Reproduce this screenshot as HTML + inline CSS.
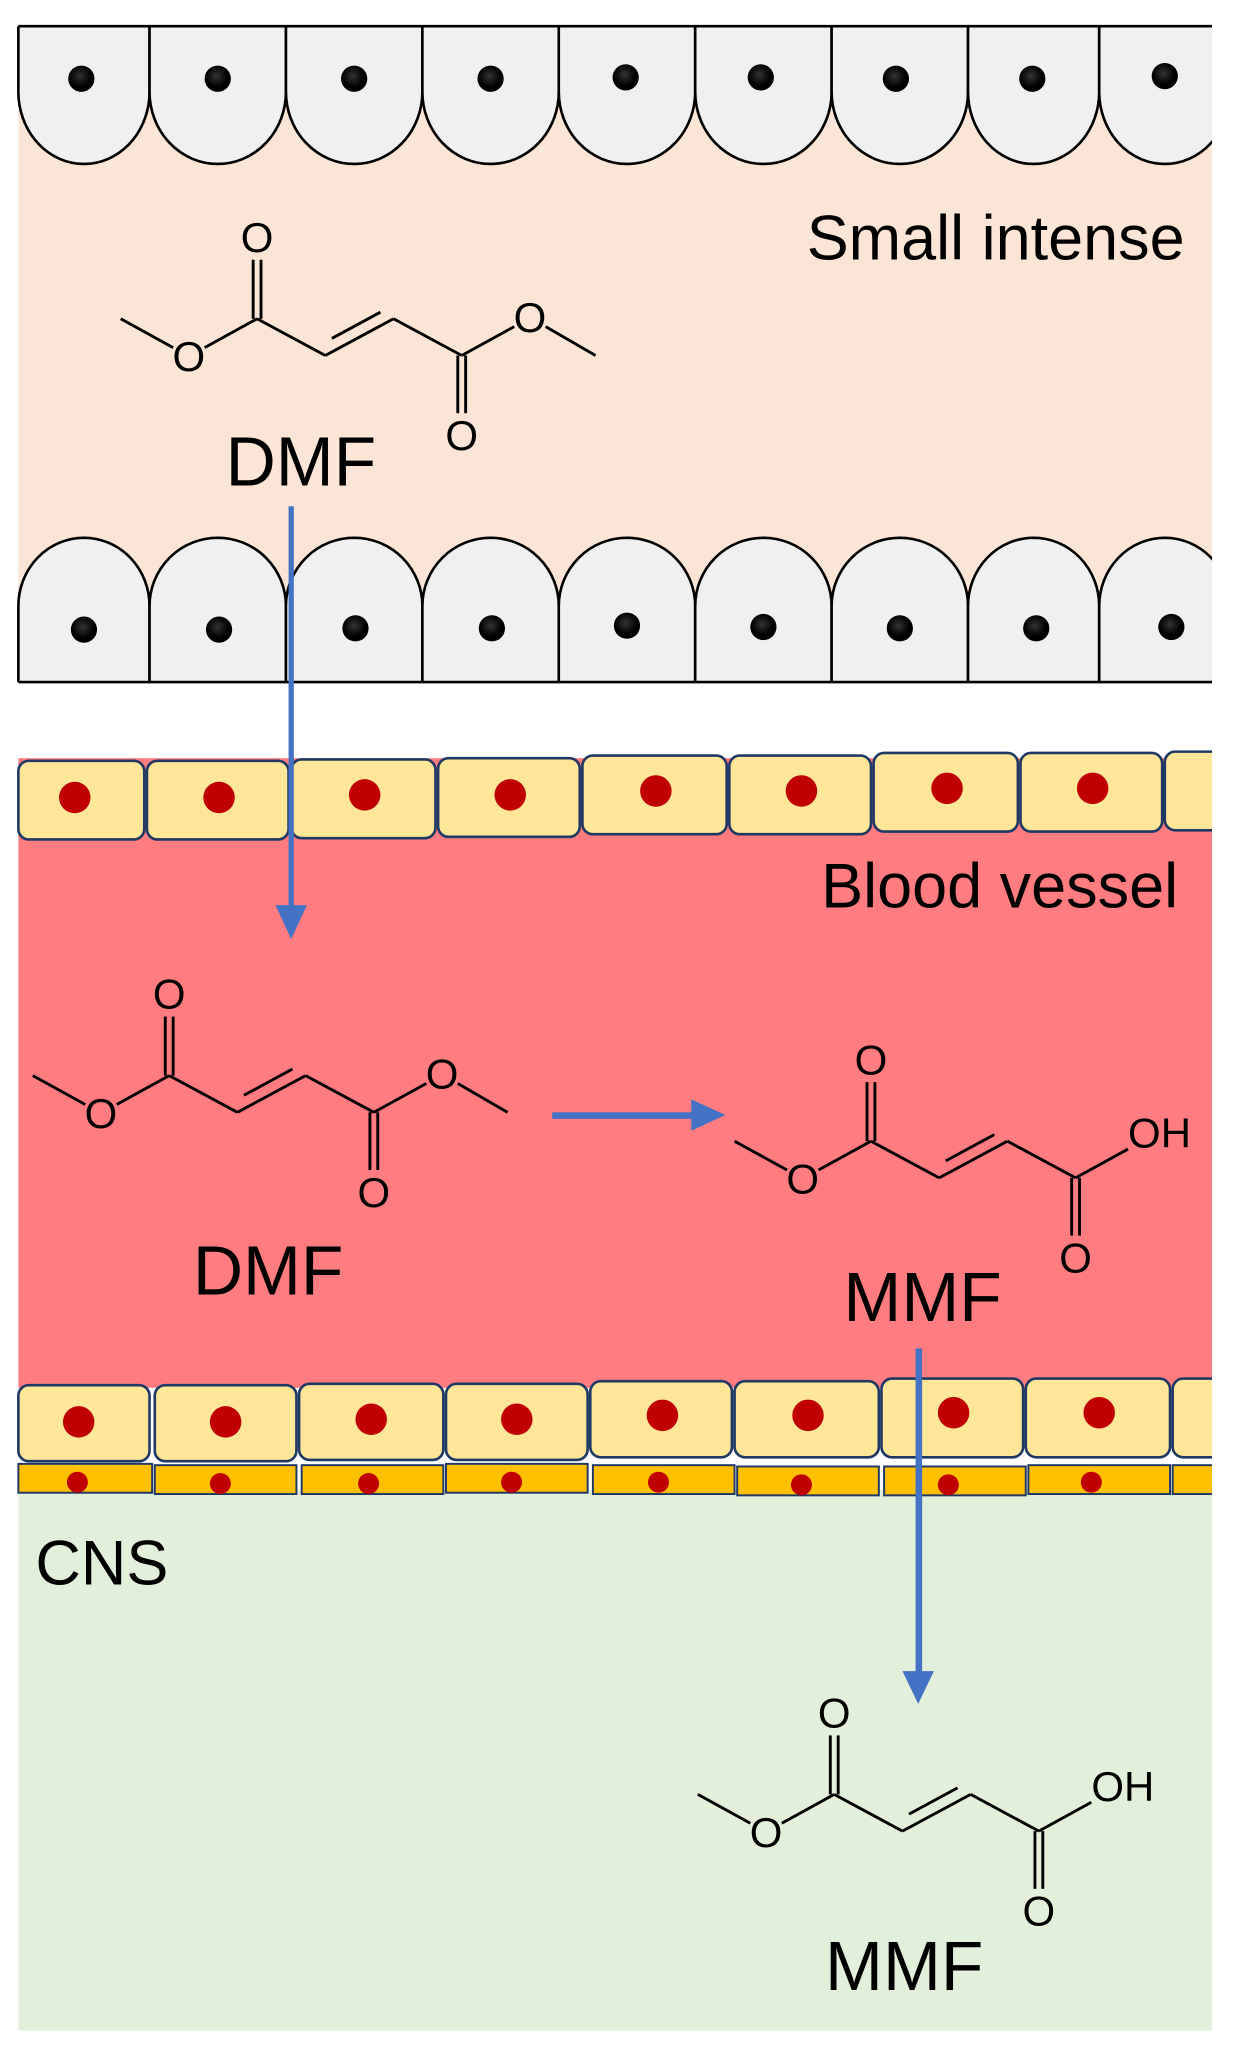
<!DOCTYPE html>
<html><head><meta charset="utf-8"><style>html,body{margin:0;padding:0;background:#fff}svg{display:block}</style></head>
<body>
<svg width="1233" height="2062" viewBox="0 0 940 1572" xmlns="http://www.w3.org/2000/svg" font-family="Liberation Sans, sans-serif">
<defs>
<radialGradient id="bn" cx="0.45" cy="0.4" r="0.6"><stop offset="0" stop-color="#333"/><stop offset="0.7" stop-color="#000"/><stop offset="1" stop-color="#000"/></radialGradient>
<g id="dmf" stroke="#000" stroke-width="2.2" fill="none">
<line x1="0" y1="0" x2="40" y2="22"/><line x1="64" y1="22" x2="104" y2="0"/>
<line x1="104" y1="0" x2="156" y2="28"/><line x1="156" y1="28" x2="208" y2="0"/>
<line x1="163" y1="21" x2="200" y2="1" transform="translate(-2,-6)"/>
<line x1="208" y1="0" x2="260" y2="28"/>
<line x1="101" y1="0" x2="101" y2="-45"/><line x1="107" y1="0" x2="107" y2="-45"/>
<line x1="257" y1="28" x2="257" y2="72"/><line x1="263" y1="28" x2="263" y2="72"/>
<line x1="260" y1="28" x2="300" y2="6"/>
</g>
</defs>
<rect x="14" y="20" width="910" height="500" fill="#FBE5D6"/>
<rect x="14" y="578" width="910" height="480" fill="#FF7C80"/>
<rect x="14" y="1136" width="910" height="412" fill="#E2EFDA"/>
<g fill="#F0F0F0" stroke="#000" stroke-width="2">
<path d="M14,20 V70 A50,55 0 0 0 114,70 V20"/>
<path d="M114,20 V70 A52,55 0 0 0 218,70 V20"/>
<path d="M218,20 V70 A52,55 0 0 0 322,70 V20"/>
<path d="M322,20 V70 A52,55 0 0 0 426,70 V20"/>
<path d="M426,20 V70 A52,55 0 0 0 530,70 V20"/>
<path d="M530,20 V70 A52,55 0 0 0 634,70 V20"/>
<path d="M634,20 V70 A52,55 0 0 0 738,70 V20"/>
<path d="M738,20 V70 A50,55 0 0 0 838,70 V20"/>
<path d="M838,20 V70 A50,55 0 0 0 938,70 V20"/>
<line x1="14" y1="20" x2="924" y2="20"/>
</g>
<g fill="url(#bn)">
<circle cx="62" cy="60" r="10"/><circle cx="166" cy="60" r="10"/><circle cx="270" cy="60" r="10"/><circle cx="374" cy="60" r="10"/><circle cx="477" cy="59" r="10"/><circle cx="580" cy="59" r="10"/><circle cx="683" cy="60" r="10"/><circle cx="787" cy="60" r="10"/><circle cx="888" cy="58" r="10"/>
</g>
<g fill="#F0F0F0" stroke="#000" stroke-width="2">
<path d="M14,520 V462 A50,52 0 0 1 114,462 V520"/>
<path d="M114,520 V462 A52,52 0 0 1 218,462 V520"/>
<path d="M218,520 V462 A52,52 0 0 1 322,462 V520"/>
<path d="M322,520 V462 A52,52 0 0 1 426,462 V520"/>
<path d="M426,520 V462 A52,52 0 0 1 530,462 V520"/>
<path d="M530,520 V462 A52,52 0 0 1 634,462 V520"/>
<path d="M634,520 V462 A52,52 0 0 1 738,462 V520"/>
<path d="M738,520 V462 A50,52 0 0 1 838,462 V520"/>
<path d="M838,520 V462 A50,52 0 0 1 938,462 V520"/>
<line x1="14" y1="520" x2="924" y2="520"/>
</g>
<g fill="url(#bn)">
<circle cx="64" cy="480" r="10"/><circle cx="167" cy="480" r="10"/><circle cx="271" cy="479" r="10"/><circle cx="375" cy="479" r="10"/><circle cx="478" cy="477" r="10"/><circle cx="582" cy="478" r="10"/><circle cx="686" cy="479" r="10"/><circle cx="790" cy="479" r="10"/><circle cx="893" cy="478" r="10"/>
</g>
<g fill="#FFE699" stroke="#1F3864" stroke-width="2">
<rect x="14" y="580" width="96" height="60" rx="8"/><rect x="112" y="580" width="108" height="60" rx="8"/><rect x="222" y="579" width="110" height="60" rx="8"/><rect x="334" y="578" width="108" height="60" rx="8"/><rect x="444" y="576" width="110" height="60" rx="8"/><rect x="556" y="576" width="108" height="60" rx="8"/><rect x="666" y="574" width="110" height="60" rx="8"/><rect x="778" y="574" width="108" height="60" rx="8"/><rect x="888" y="573" width="60" height="60" rx="8"/>
</g>
<g fill="#C00000">
<circle cx="57" cy="608" r="12"/><circle cx="167" cy="608" r="12"/><circle cx="278" cy="606" r="12"/><circle cx="389" cy="606" r="12"/><circle cx="500" cy="603" r="12"/><circle cx="611" cy="603" r="12"/><circle cx="722" cy="601" r="12"/><circle cx="833" cy="601" r="12"/>
</g>
<g fill="#FFE699" stroke="#1F3864" stroke-width="2">
<rect x="14" y="1056" width="100" height="58" rx="8"/><rect x="118" y="1056" width="108" height="58" rx="8"/><rect x="228" y="1055" width="110" height="58" rx="8"/><rect x="340" y="1055" width="108" height="58" rx="8"/><rect x="450" y="1053" width="108" height="58" rx="8"/><rect x="560" y="1053" width="110" height="58" rx="8"/><rect x="672" y="1051" width="108" height="60" rx="8"/><rect x="782" y="1051" width="110" height="60" rx="8"/><rect x="894" y="1051" width="60" height="60" rx="8"/>
</g>
<g fill="#C00000">
<circle cx="60" cy="1084" r="12"/><circle cx="172" cy="1084" r="12"/><circle cx="283" cy="1082" r="12"/><circle cx="394" cy="1082" r="12"/><circle cx="505" cy="1079" r="12"/><circle cx="616" cy="1079" r="12"/><circle cx="727" cy="1077" r="12"/><circle cx="838" cy="1077" r="12"/>
</g>
<g fill="#FFC000" stroke="#1F3864" stroke-width="1.5">
<rect x="14" y="1116" width="102" height="22"/><rect x="118" y="1117" width="108" height="22"/><rect x="230" y="1117" width="108" height="22"/><rect x="340" y="1116" width="108" height="22"/><rect x="452" y="1117" width="108" height="22"/><rect x="562" y="1118" width="108" height="22"/><rect x="674" y="1118" width="108" height="22"/><rect x="784" y="1117" width="108" height="22"/><rect x="894" y="1117" width="40" height="22"/>
</g>
<g fill="#C00000">
<circle cx="59" cy="1130" r="8"/><circle cx="168" cy="1131" r="8"/><circle cx="281" cy="1131" r="8"/><circle cx="390" cy="1130" r="8"/><circle cx="502" cy="1130" r="8"/><circle cx="611" cy="1132" r="8"/><circle cx="723" cy="1132" r="8"/><circle cx="832" cy="1130" r="8"/>
</g>
<rect x="14" y="522" width="924" height="50" fill="#fff"/>
<rect x="924" y="0" width="16" height="1572" fill="#fff"/>
<g transform="translate(92,243)">
<use href="#dmf"/><line x1="324" y1="6" x2="362" y2="28" stroke="#000" stroke-width="2.2"/>
<g font-size="32" text-anchor="middle"><text x="52" y="40">O</text><text x="104" y="-51">O</text><text x="260" y="100">O</text><text x="312" y="10">O</text></g>
</g>
<g transform="translate(25,820)">
<use href="#dmf"/><line x1="324" y1="6" x2="362" y2="28" stroke="#000" stroke-width="2.2"/>
<g font-size="32" text-anchor="middle"><text x="52" y="40">O</text><text x="104" y="-51">O</text><text x="260" y="100">O</text><text x="312" y="10">O</text></g>
</g>
<g transform="translate(560,870)">
<use href="#dmf"/>
<g font-size="32" text-anchor="middle"><text x="52" y="40">O</text><text x="104" y="-51">O</text><text x="260" y="100">O</text><text x="324" y="5">OH</text></g>
</g>
<g transform="translate(532,1368)">
<use href="#dmf"/>
<g font-size="32" text-anchor="middle"><text x="52" y="40">O</text><text x="104" y="-51">O</text><text x="260" y="100">O</text><text x="324" y="5">OH</text></g>
</g>
<g font-size="48" fill="#000">
<text x="615" y="198">Small intense</text>
<text x="626" y="692">Blood vessel</text>
<text x="27" y="1208">CNS</text>
</g>
<g font-size="53" fill="#000">
<text x="172" y="370">DMF</text>
<text x="147" y="987">DMF</text>
<text x="643" y="1007">MMF</text>
<text x="629" y="1517">MMF</text>
</g>
<g fill="#4472C4" stroke="none">
<rect x="220" y="386" width="4" height="308"/><polygon points="210,690 234,690 222,716"/>
<rect x="421" y="848" width="110" height="5"/><polygon points="527,838 553,850 527,862"/>
<rect x="698" y="1028" width="5" height="250"/><polygon points="688,1274 712,1274 700,1299"/>
</g>
</svg>
</body></html>
